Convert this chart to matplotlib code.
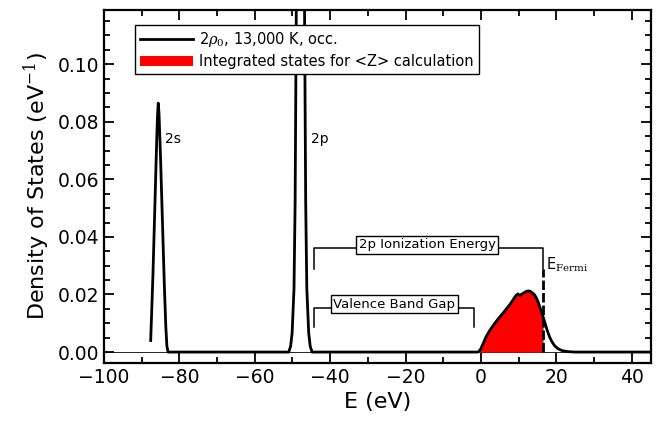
import numpy as np
import matplotlib.pyplot as plt
from matplotlib.ticker import MultipleLocator, FormatStrFormatter

plt.rcParams['mathtext.fontset'] = 'custom'
plt.rcParams['mathtext.rm'] = 'DejaVu Serif'
plt.rcParams['mathtext.it'] = 'DejaVu Serif:italic'

# 2s peak
e_2s = [-87.6, -87.0, -86.4, -86.0, -85.8, -85.6, -85.4, -85.0, -84.5, -84.0, -83.6, -83.3, -83.0]
dos_2s = [0.004, 0.027, 0.055, 0.074, 0.082, 0.0865, 0.083, 0.068, 0.046, 0.024, 0.009, 0.002, 0.0]

# 2p peak (goes off the top)
e_2p = [-51.0, -50.5, -50.1, -49.6, -49.3, -49.0, -48.8, -48.5, -48.2, -47.9,
        -47.6, -47.3, -47.0, -46.8, -46.5, -46.2, -45.7, -45.3, -44.8]
dos_2p = [0.0, 0.002, 0.0066, 0.022, 0.052, 0.118, 0.177, 0.28, 0.36, 0.40,
          0.36, 0.28, 0.177, 0.118, 0.052, 0.022, 0.0066, 0.002, 0.0]

# valence band
e_vb = [-0.8, -0.2, 0.5, 1.3, 2.2, 3.3, 4.7, 5.8, 6.9, 7.8, 8.65, 9.3, 9.8, 10.3, 11.0, 11.6,
        12.2, 12.9, 13.5, 14.1, 14.6, 15.2, 15.7, 16.45, 17.0, 17.5, 18.1, 18.7, 19.5,
        20.5, 21.5, 23.0, 25.0, 45.0]
dos_vb = [0.0, 0.0008, 0.0028, 0.0052, 0.0073, 0.0094, 0.0118, 0.0135, 0.0153, 0.0168, 0.0185,
          0.0197, 0.0202, 0.0197, 0.0203, 0.0208, 0.0212, 0.0212, 0.0207, 0.0200, 0.0190,
          0.0172, 0.0152, 0.0123, 0.0099, 0.0077, 0.0055, 0.0038, 0.0022, 0.0011, 0.0005,
          0.00015, 0.0, 0.0]

e_fermi = 16.45
fermi_top = 0.029

e = np.array(e_2s + e_2p + e_vb)
dos = np.array(dos_2s + dos_2p + dos_vb)

fig = plt.figure(figsize=(6.62, 4.22), dpi=100)
ax = fig.add_axes([0.157, 0.1405, 0.826, 0.8355])

ax.axhline(0, color='k', lw=0.6, zorder=1)
ev = np.array(e_vb)
dv = np.array(dos_vb)
m = ev <= e_fermi
ax.fill_between(ev[m], dv[m], 0, color='#ff0000', lw=0, zorder=2,
                label='Integrated states for <Z> calculation')
ax.plot(e, dos, color='k', lw=2, zorder=3, label=r'2$\rho_0$, 13,000 K, occ.')
ax.plot([e_fermi, e_fermi], [0, fermi_top], color='k', lw=2, dashes=(3.4, 1.1), zorder=4)

# brackets
def bracket(x0, x1, y, ylo, text, xt, yt):
    ax.plot([x0, x0, x1, x1], [ylo, y, y, ylo], color='k', lw=1.1, zorder=4)
    ax.text(xt, yt, text, ha='center', va='center', fontsize=9.5, zorder=5,
            bbox=dict(boxstyle='square,pad=0.2', fc='white', ec='k', lw=1))

bracket(-44.3, e_fermi, 0.036, fermi_top, '2p Ionization Energy', -14.3, 0.0372)
bracket(-44.4, -1.8, 0.0152, 0.0088, 'Valence Band Gap', -23.0, 0.0166)

ax.text(-83.9, 0.0725, '2s', fontsize=10)
ax.text(-45.1, 0.0725, '2p', fontsize=10)
ax.text(17.1, 0.0288, r'E$_{\mathrm{Fermi}}$', fontsize=10.5)

ax.set_xlim(-100, 45)
ax.set_ylim(-0.0037, 0.1188)
ax.xaxis.set_major_locator(MultipleLocator(20))
ax.xaxis.set_minor_locator(MultipleLocator(10))
ax.yaxis.set_major_locator(MultipleLocator(0.02))
ax.yaxis.set_minor_locator(MultipleLocator(0.005))
ax.yaxis.set_major_formatter(FormatStrFormatter('%.2f'))
ax.tick_params(which='both', direction='in', top=True, right=True, width=1.3, labelsize=13.5)
ax.tick_params(which='major', length=7.5)
ax.tick_params(which='minor', length=4.5)
for s in ax.spines.values():
    s.set_linewidth(1.6)

ax.set_xlabel('E (eV)', fontsize=16)
ax.set_ylabel(r'Density of States (eV$^{-1}$)', fontsize=16)

h, l = ax.get_legend_handles_labels()
ax.legend(h[::-1], l[::-1], loc='upper left', bbox_to_anchor=(0.057, 0.957), borderaxespad=0,
          fontsize=10.5, fancybox=False, edgecolor='k', framealpha=1, handlelength=3.6,
          labelspacing=0.3, borderpad=0.35, handletextpad=0.45)

fig.savefig('out.png', dpi=100)
